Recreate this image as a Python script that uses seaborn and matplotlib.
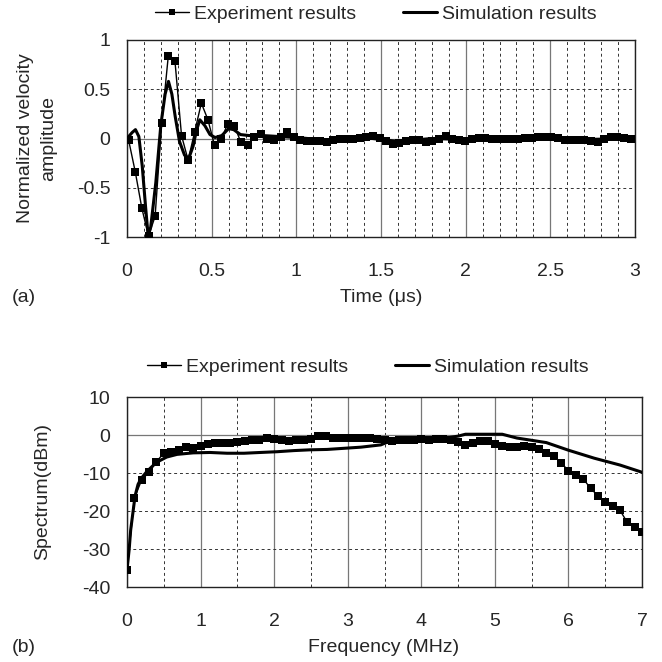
import numpy as np
import matplotlib
matplotlib.use("Agg")
import matplotlib.pyplot as plt
from matplotlib.lines import Line2D
import seaborn as sns

# (a) time response
time_exp = np.round(np.arange(0.01, 3.0, 0.039), 3)
vel_exp = [-0.02, -0.34, -0.71, -0.99, -0.79, 0.16, 0.84, 0.79, 0.03, -0.22,
           0.07, 0.36, 0.19, -0.07, -0.01, 0.15, 0.13, -0.04, -0.07, 0.02,
           0.05, 0.00, -0.02, 0.02, 0.07, 0.02, -0.02, -0.03, -0.03, -0.03,
           -0.04, -0.02, -0.01, 0.00, 0.00, 0.01, 0.02, 0.03, 0.01, -0.03,
           -0.06, -0.05, -0.03, -0.02, -0.02, -0.04, -0.03, 0.00, 0.03, -0.01,
           -0.02, -0.03, 0.00, 0.01, 0.01, 0.00, 0.00, 0.00, 0.00, 0.00,
           0.01, 0.01, 0.02, 0.02, 0.02, 0.01, -0.02, -0.02, -0.02, -0.02,
           -0.03, -0.04, -0.01, 0.02, 0.02, 0.01, 0.00]
time_sim = [0, 0.03, 0.05, 0.07, 0.09, 0.11, 0.125, 0.14, 0.17, 0.2, 0.225, 0.245,
            0.265, 0.285, 0.31, 0.34, 0.365, 0.39, 0.41, 0.43, 0.46, 0.49, 0.52,
            0.56, 0.6, 0.63, 0.67, 0.72, 0.8, 0.9, 1.0, 1.2, 1.4, 1.6, 1.8, 2.0,
            2.3, 2.5, 2.7, 3.0]
vel_sim = [0.0, 0.06, 0.09, 0.02, -0.28, -0.7, -0.99, -0.9, -0.45, 0.14, 0.45, 0.58,
           0.45, 0.22, -0.03, -0.17, -0.2, -0.08, 0.08, 0.19, 0.13, 0.04, 0.01,
           0.03, 0.1, 0.09, 0.04, 0.03, 0.03, 0.02, 0.01, -0.02, 0.01, -0.03, 0.0,
           -0.01, 0.0, 0.01, -0.01, 0.0]

# (b) spectrum
freq_exp = np.round(np.arange(0, 7.05, 0.1), 2)
spec_exp = [-35.5, -16.6, -11.8, -9.8, -7.0, -4.8, -4.4, -3.9, -3.2, -3.5,
            -2.9, -2.4, -2.2, -2.1, -2.0, -1.8, -1.6, -1.4, -1.3, -0.9,
            -1.0, -1.4, -1.5, -1.4, -1.3, -1.1, -0.3, -0.3, -0.8, -0.9,
            -0.9, -0.7, -0.8, -0.9, -1.1, -1.2, -1.5, -1.3, -1.2, -1.2,
            -1.1, -1.2, -1.1, -1.0, -1.2, -1.9, -2.5, -2.1, -1.6, -1.5,
            -2.3, -3.0, -3.1, -3.1, -2.9, -3.1, -3.7, -4.7, -5.5, -7.3,
            -9.4, -10.5, -11.5, -14.0, -16.0, -17.7, -18.8, -19.8, -23.0, -24.3,
            -25.5]
freq_sim = [0.0, 0.03, 0.05, 0.08, 0.11, 0.15, 0.19, 0.27, 0.4, 0.54, 0.68, 0.9,
            1.13, 1.36, 1.59, 1.81, 2.04, 2.27, 2.49, 2.72, 2.95, 3.18, 3.45, 3.6,
            4.0, 4.3, 4.5, 4.6, 5.1, 5.3, 5.7, 6.0, 6.35, 6.7, 7.0]
spec_sim = [-35.5, -30, -25, -20.5, -16, -13, -11.5, -9.6, -7.2, -5.8, -5.1, -4.7,
            -4.6, -4.8, -4.8, -4.6, -4.4, -4.1, -3.9, -3.8, -3.5, -3.2, -2.6, -1.4,
            -1.1, -0.9, -0.3, 0.2, 0.2, -0.8, -2.0, -4.0, -6.1, -7.9, -9.8]

time_ticks = [0, 0.5, 1, 1.5, 2, 2.5, 3]
time_labels = ["0", "0.5", "1", "1.5", "2", "2.5", "3"]
vel_ticks = [-1, -0.5, 0, 0.5, 1]
vel_labels = ["-1", "-0.5", "0", "0.5", "1"]
freq_ticks = [0, 1, 2, 3, 4, 5, 6, 7]
freq_labels = ["0", "1", "2", "3", "4", "5", "6", "7"]
spec_ticks = [-40, -30, -20, -10, 0, 10]
spec_labels = ["-40", "-30", "-20", "-10", "0", "10"]

legend_labels = ["Experiment results", "Simulation results"]

sns.set_style("white")
plt.rcParams["font.family"] = ["Liberation Sans", "DejaVu Sans"]
plt.rcParams["font.size"] = 14

fig = plt.figure(figsize=(6.62, 6.62), dpi=100)
ax1 = fig.add_axes([127 / 662, 1 - 237 / 662, 508 / 662, 197 / 662])
ax2 = fig.add_axes([127 / 662, 1 - 587 / 662, 515 / 662, 190 / 662])


def style_axes(ax, xt, xl, xminor, yt, yl, pad_x):
    ax.set_xticks(xt)
    ax.set_xticklabels(xl)
    ax.set_xticks(xminor, minor=True)
    ax.set_yticks(yt)
    ax.set_yticklabels(yl)
    ax.tick_params(which="both", length=0)
    ax.tick_params(axis="x", pad=pad_x, labelsize=14)
    ax.tick_params(axis="y", pad=12, labelsize=14)
    ax.grid(which="major", axis="x", ls="-", color="#777777", lw=0.9)
    ax.grid(which="minor", axis="x", ls=(0, (3, 3)), color="#333333", lw=0.7)
    ax.grid(which="major", axis="y", ls=(0, (3, 3)), color="#333333", lw=0.7)
    ax.axhline(0, color="#777777", lw=0.9, zorder=1)
    for s in ax.spines.values():
        s.set_color("#222222")
        s.set_linewidth(1.0)
    ax.set_axisbelow(True)


sns.lineplot(x=time_sim, y=vel_sim, ax=ax1, color="black", lw=2.2, legend=False, zorder=3)
sns.lineplot(x=time_exp, y=vel_exp, ax=ax1, color="black", lw=1, marker="s",
             markersize=5.8, markeredgewidth=0, legend=False, zorder=4)
ax1.set_xlim(0, 3)
ax1.set_ylim(-1, 1)
style_axes(ax1, time_ticks, time_labels, np.arange(0, 3.01, 0.1), vel_ticks, vel_labels, 19)
ax1.set_xlabel("")
ax1.set_ylabel("Normalized velocity\namplitude", fontsize=14, linespacing=1.45, labelpad=14)

sns.lineplot(x=freq_sim, y=spec_sim, ax=ax2, color="black", lw=2.2, legend=False, zorder=3)
sns.lineplot(x=freq_exp, y=spec_exp, ax=ax2, color="black", lw=1, marker="s",
             markersize=5.2, markeredgewidth=0, legend=False, zorder=4)
ax2.set_xlim(0, 7)
ax2.set_ylim(-40, 10)
style_axes(ax2, freq_ticks, freq_labels, np.arange(0, 7.01, 0.5), spec_ticks, spec_labels, 19)
ax2.set_xlabel("")
ax2.set_ylabel("Spectrum(dBm)", fontsize=14, labelpad=22)

handles = [Line2D([], [], color="black", lw=1, marker="s", markersize=5, markeredgewidth=0),
           Line2D([], [], color="black", lw=2.2)]
for yc, xc in [(14, 376), (367, 368)]:
    fig.legend(handles, legend_labels, loc="center", bbox_to_anchor=(xc / 662, 1 - yc / 662),
               ncol=2, frameon=False, fontsize=14, handlelength=1.75, handletextpad=0.25,
               columnspacing=2.4, borderpad=0)

fig.text(381 / 662, 1 - 298 / 662, "Time (\u03bcs)", ha="center", va="center", fontsize=14)
fig.text(384 / 662, 1 - 648 / 662, "Frequency (MHz)", ha="center", va="center", fontsize=14)
fig.text(12 / 662, 1 - 298 / 662, "(a)", ha="left", va="center", fontsize=14)
fig.text(12 / 662, 1 - 648 / 662, "(b)", ha="left", va="center", fontsize=14)

fig.savefig("out.png", dpi=100)
